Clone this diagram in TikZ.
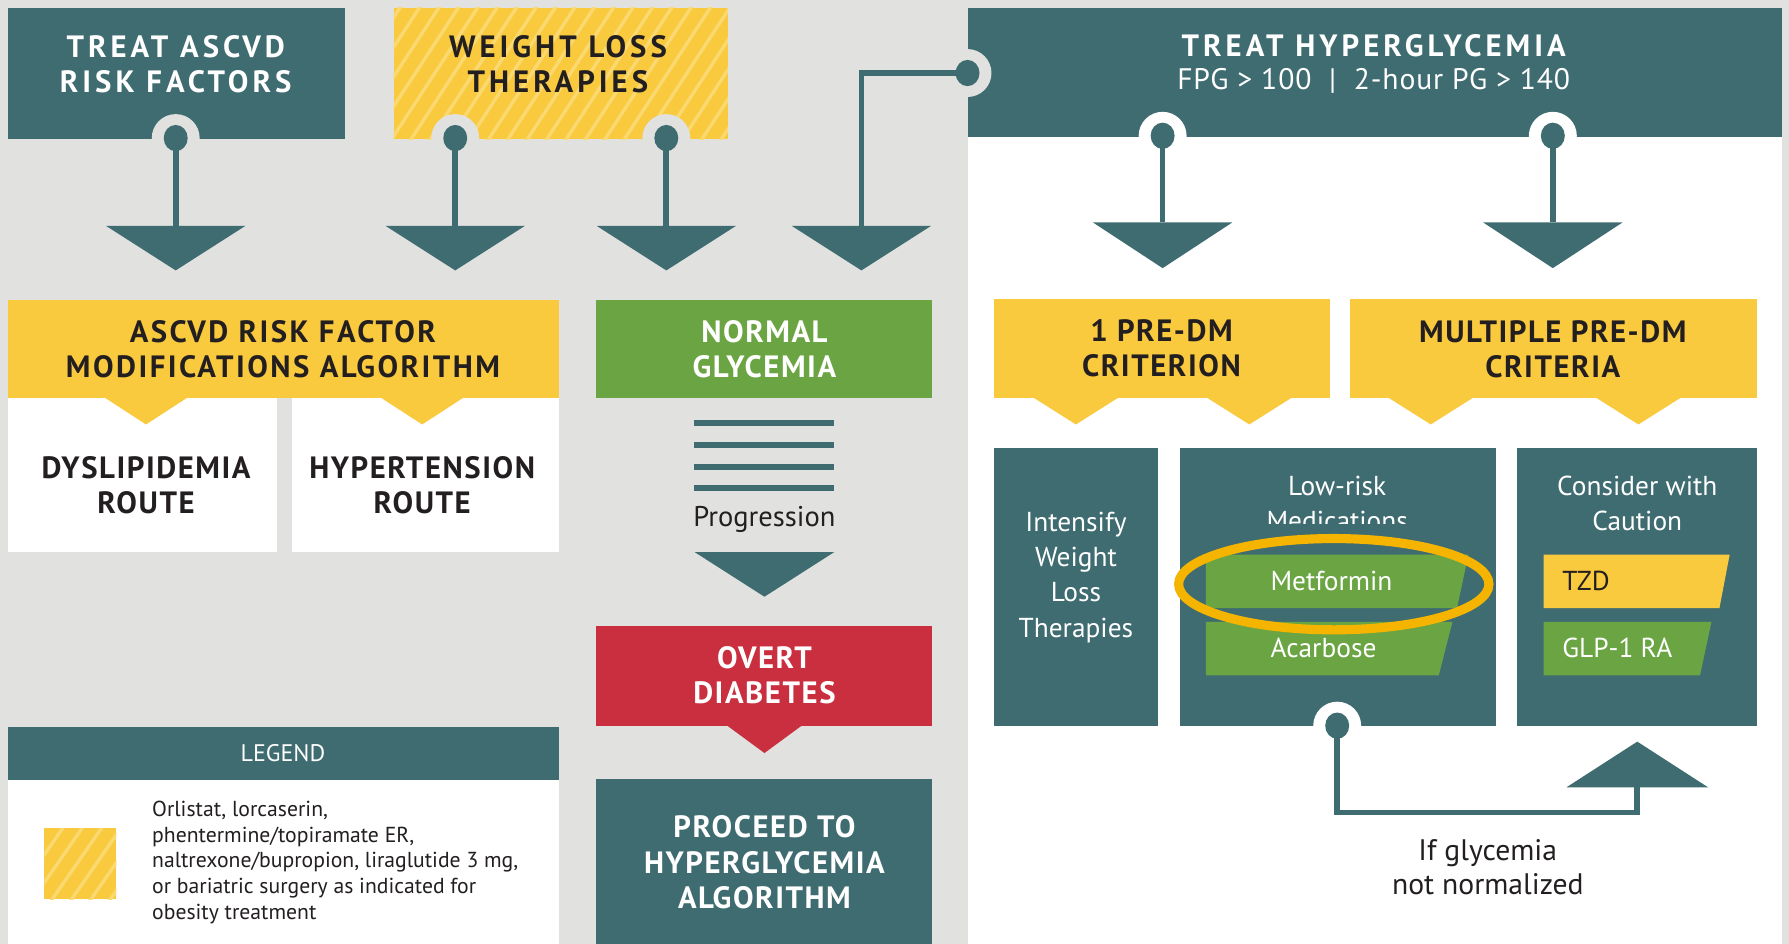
\documentclass[tikz,border=0pt]{standalone}
\usepackage{fontspec}
\setmainfont{PT Sans}
\newfontfamily\hd{PT Sans}[LetterSpace=5]
\newfontfamily\hdtop{PT Sans}[LetterSpace=13]
\newfontfamily\hdmid{PT Sans}[LetterSpace=8]
\newfontfamily\hdr{PT Sans}[LetterSpace=3]
\definecolor{tealc}{HTML}{3F6C71}
\definecolor{bgc}{HTML}{E1E1E0}
\definecolor{yel}{HTML}{F9C93E}
\definecolor{yell}{HTML}{FBD971}
\definecolor{grn}{HTML}{6BA543}
\definecolor{redc}{HTML}{C92F3F}
\definecolor{orc}{HTML}{F5B400}
\definecolor{ink}{HTML}{231F20}
% name x1 y1 x2 y2 style
\newcommand\mybox[6]{\node[box,#6,minimum width={(#4-#2)*0.5pt},minimum height={(#5-#3)*0.5pt}] (#1) at ({(#2+#4)/2},{(#3+#5)/2}) {};}
% name ringcolor x y
\newcommand\mypin[4]{\fill[#2] (#3,#4) circle (21);\fill[tealc] (#3,#4) ellipse (10.5 and 11.5);\coordinate (#1) at (#3,#4);}
% name color cx ybase halfw yapex
\newcommand\mytri[6]{\fill[#2] ({#3-#5},#4) -- ({#3+#5},#4) -- (#3,#6) -- cycle;\coordinate (#1) at (#3,#4);}
\begin{document}
\begin{tikzpicture}[x=0.5pt,y=-0.5pt,
  box/.style={inner sep=0pt,outer sep=0pt,rectangle,draw=none},
  head/.style={font=\hd\bfseries\fontsize{13.5}{15.5}\selectfont,align=center,inner sep=0pt},
  headtop/.style={head,font=\hdtop\bfseries\fontsize{13.5}{15.5}\selectfont},
  headmid/.style={head,font=\hdmid\bfseries\fontsize{13.5}{15.5}\selectfont},
  body/.style={font=\fontsize{12}{15.5}\selectfont,align=center,inner sep=0pt},
  wire/.style={draw=tealc,line width=2.5pt},
  stripe/.style={draw=yell,line width=1.5pt}]
\useasboundingbox (0,0) rectangle (1568,827);
\fill[bgc] (0,0) rectangle (1568,827);
\fill[white] (848,120) rectangle (1562,827);

% ---- top row
\mybox{ascvd}{7}{7}{302}{122}{fill=tealc}
\node[headtop,text=white] (ascvdT) at (154,56) {TREAT ASCVD\\RISK FACTORS};
\mybox{wl}{345}{7}{638}{122}{fill=yel}
\begin{scope}
\clip (345,7) rectangle (638,122);
\foreach \i in {0,...,24} \draw[stripe] ({270+\i*17},130) -- ({355+\i*17},0);
\end{scope}
\node[headtop,text=ink] (wlT) at (489,56) {WEIGHT LOSS\\THERAPIES};
\mybox{hyp}{848}{7}{1562}{120}{fill=tealc}
\node[headtop,text=white] (hypT) at (1204,40) {TREAT HYPERGLYCEMIA};
\node[font=\hdr\fontsize{13}{15}\selectfont,text=white,inner sep=0pt] (hypS) at (1204,71) {FPG > 100 \ | \ 2-hour PG > 140};

% pins
\mypin{p1}{bgc}{154}{121}
\mypin{p2}{bgc}{399}{121}
\mypin{p3}{bgc}{584}{121}
\mypin{p4}{bgc}{848}{64}
\mypin{p5}{white}{1019}{119}
\mypin{p6}{white}{1361}{119}

% arrow triangles
\mytri{t1}{tealc}{154}{198}{61}{237}
\mytri{t2}{tealc}{399}{198}{61}{237}
\mytri{t3}{tealc}{584}{198}{61}{237}
\mytri{t4}{tealc}{755}{198}{61}{237}
\mytri{t5}{tealc}{1019}{195}{61}{235}
\mytri{t6}{tealc}{1361}{195}{61}{235}
\draw[wire] (p1) -- (t1);
\draw[wire] (p2) -- (t2);
\draw[wire] (p3) -- (t3);
\draw[wire] (p4) -| (t4);
\draw[wire] (p5) -- (t5);
\draw[wire] (p6) -- (t6);

% ---- ASCVD algorithm
\mybox{alg}{7}{263}{490}{349}{fill=yel}
\node[headmid,text=ink] (algT) at (248,306) {ASCVD RISK FACTOR\\MODIFICATIONS ALGORITHM};
\mybox{dys}{7}{349}{243}{484}{fill=white}
\mybox{htn}{256}{349}{490}{484}{fill=white}
\mytri{ya}{yel}{128}{348}{37}{372}
\mytri{yb}{yel}{370}{348}{37}{372}
\node[head,text=ink] (dysT) at (128,425) {DYSLIPIDEMIA\\ROUTE};
\node[head,text=ink] (htnT) at (370,425) {HYPERTENSION\\ROUTE};

% ---- middle column
\mybox{norm}{522}{263}{817}{349}{fill=grn}
\node[head,text=white] (normT) at (670,306) {NORMAL\\GLYCEMIA};
\foreach \y in {371,390,409,428} \fill[tealc] (608,\y-2.7) rectangle (731,\y+2.7);
\node[body,text=ink,font=\fontsize{12.5}{15}\selectfont] (prog) at (670,455) {Progression};
\mytri{tp}{tealc}{670}{484}{61}{523}
\mybox{overt}{522}{549}{817}{636}{fill=redc}
\mytri{tr}{redc}{670}{635}{34}{660}
\node[head,text=white] (overtT) at (670,592) {OVERT\\DIABETES};
\mybox{proc}{522}{683}{817}{827}{fill=tealc}
\node[head,text=white] (procT) at (670,756) {PROCEED TO\\HYPERGLYCEMIA\\ALGORITHM};

% ---- legend
\mybox{legh}{7}{637}{490}{684}{fill=tealc}
\node[text=white,font=\fontsize{10.5}{12}\selectfont,inner sep=0pt] (legT) at (248,660) {LEGEND};
\mybox{legb}{7}{684}{490}{827}{fill=white}
\mybox{sw}{39}{726}{102}{788}{fill=yel}
\begin{scope}
\clip (39,726) rectangle (102,788);
\foreach \i in {0,...,8} \draw[stripe] ({-10+\i*17},795) -- ({42+\i*17},720);
\end{scope}
\node[anchor=north west,align=left,font=\fontsize{9.5}{11.2}\selectfont,text=ink,inner sep=0pt] (legtxt) at (133,702) {Orlistat, lorcaserin,\\phentermine/topiramate ER,\\naltrexone/bupropion, liraglutide 3 mg,\\or bariatric surgery as indicated for\\obesity treatment};

% ---- right panel
\mybox{one}{871}{262}{1166}{349}{fill=yel}
\node[head,text=ink] (oneT) at (1018,305) {1 PRE-DM\\CRITERION};
\mytri{y1}{yel}{943}{348}{38}{372}
\mytri{y2}{yel}{1095}{348}{38}{372}
\mybox{mult}{1183}{262}{1540}{349}{fill=yel}
\node[head,text=ink] (multT) at (1361,306) {MULTIPLE PRE-DM\\CRITERIA};
\mytri{y3}{yel}{1254}{348}{38}{372}
\mytri{y4}{yel}{1436}{348}{38}{372}

\mybox{int}{871}{393}{1015}{636}{fill=tealc}
\node[body,text=white] (intT) at (943,506) {Intensify\\Weight\\Loss\\Therapies};
\mybox{low}{1034}{393}{1311}{636}{fill=tealc}
\begin{scope}
\clip (1034,393) rectangle (1311,459);
\node[body,text=white] (lowT) at (1172,441) {Low-risk\\Medications};
\end{scope}
\fill[grn] (1057,486) -- (1287,486) -- (1277,533) -- (1057,533) -- cycle;
\node[body,text=white] (met) at (1167,509) {Metformin};
\fill[grn] (1057,545) -- (1273,545) -- (1261,592) -- (1057,592) -- cycle;
\node[body,text=white] (aca) at (1160,568) {Acarbose};
\draw[orc,line width=4pt] (1169,512) ellipse (136 and 40);

\mybox{cons}{1330}{393}{1540}{636}{fill=tealc}
\node[body,text=white] (consT) at (1435,441) {Consider with\\Caution};
\fill[yel] (1353,486) -- (1516,486) -- (1507,533) -- (1353,533) -- cycle;
\node[body,text=ink,anchor=west] (tzd) at (1369,509) {TZD};
\fill[grn] (1353,545) -- (1500,545) -- (1490,592) -- (1353,592) -- cycle;
\node[body,text=white,anchor=west] (glp) at (1369,568) {GLP-1 RA};

% ---- feedback loop
\mypin{p7}{white}{1172}{636}
\mytri{t8}{tealc}{1435}{690}{62}{650}
\coordinate (c1) at (1435,712);
\draw[wire] (p7) |- (c1) -- (t8);
\node[body,text=ink,font=\fontsize{13}{15}\selectfont] (ifT) at (1304,760) {If glycemia\\not normalized};
\end{tikzpicture}
\end{document}
